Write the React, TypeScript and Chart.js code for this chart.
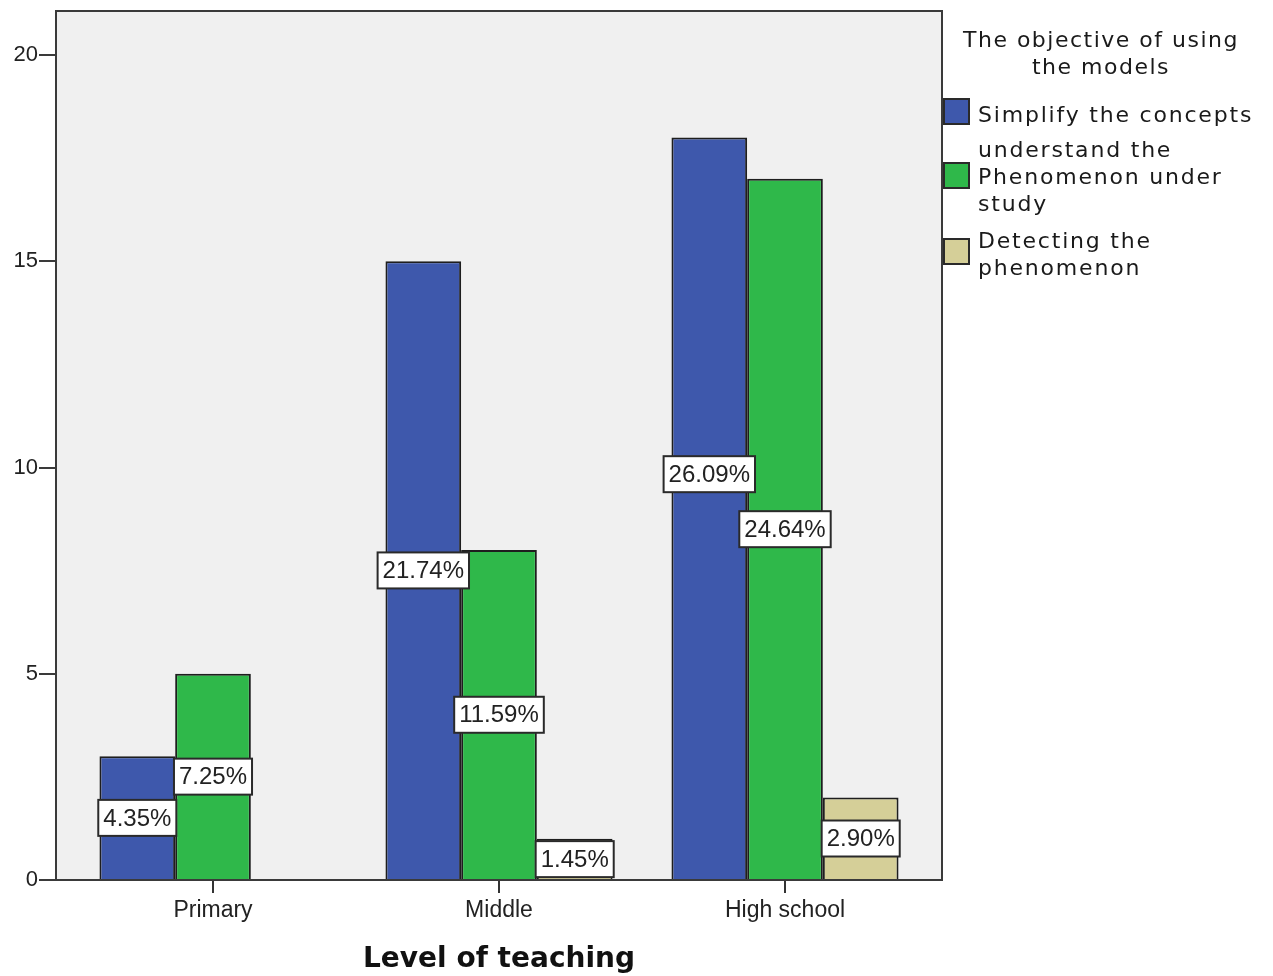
import React, { useEffect, useRef } from "react";
import { Chart, registerables } from "chart.js";

Chart.register(...registerables);

const categories = ["Primary", "Middle", "High school"];
const seriesNames = [
  "Simplify the concepts",
  "understand the Phenomenon under study",
  "Detecting the phenomenon",
];
const simplifyValues = [3, 15, 18];
const understandValues = [5, 8, 17];
const detectingValues = [null, 1, 2];
const totalCount = 69;
const yTicks = [0, 5, 10, 15, 20];

const colors = ["#3e58ac", "#2fb84a", "#d5cf98"];
const EXTRA = 14;

const bgPlugin = {
  id: "plotFrame",
  beforeDatasetsDraw(chart: any) {
    const { ctx, chartArea } = chart;
    const l = chartArea.left - EXTRA;
    const r = chartArea.right + EXTRA;
    ctx.save();
    ctx.fillStyle = "#f0f0f0";
    ctx.fillRect(l, chartArea.top, r - l, chartArea.bottom - chartArea.top);
    ctx.strokeStyle = "#3a3a3a";
    ctx.lineWidth = 2;
    ctx.strokeRect(l, chartArea.top, r - l, chartArea.bottom - chartArea.top);
    const ys = chart.scales.y;
    ctx.beginPath();
    yTicks.forEach((v) => {
      const y = Math.round(ys.getPixelForValue(v));
      ctx.moveTo(l - 17, y);
      ctx.lineTo(l, y);
    });
    ctx.stroke();
    ctx.restore();
  },
  afterDatasetsDraw(chart: any) {
    const { ctx, chartArea } = chart;
    ctx.save();
    ctx.strokeStyle = "#3a3a3a";
    ctx.lineWidth = 2;
    ctx.beginPath();
    ctx.moveTo(chartArea.left - EXTRA, chartArea.bottom);
    ctx.lineTo(chartArea.right + EXTRA, chartArea.bottom);
    ctx.stroke();
    ctx.font = "24px 'Liberation Sans', Arial, sans-serif";
    ctx.textAlign = "center";
    ctx.textBaseline = "middle";
    const h = 36;
    categories.forEach((_c, i) => {
      const boxes: any[] = [];
      chart.data.datasets.forEach((ds: any, di: number) => {
        const v = ds.data[i];
        if (v == null || v <= 0) return;
        const el = chart.getDatasetMeta(di).data[i] as any;
        const pct = ((v / totalCount) * 100).toFixed(2) + "%";
        const w = ctx.measureText(pct).width + 10;
        boxes.push({ pct, cx: el.x, cy: (el.y + el.base) / 2, w });
      });
      // avoid overlap between neighbouring labels: lift the higher one
      for (let k = 0; k < boxes.length - 1; k++) {
        const a = boxes[k];
        const b = boxes[k + 1];
        const hOverlap = Math.abs(a.cx - b.cx) < (a.w + b.w) / 2;
        const vOverlap = Math.abs(a.cy - b.cy) < h;
        if (hOverlap && vOverlap) {
          if (a.cy <= b.cy) a.cy = b.cy - 55;
          else b.cy = a.cy - 55;
        }
      }
      boxes.forEach((bx) => {
        ctx.fillStyle = "#ffffff";
        ctx.fillRect(bx.cx - bx.w / 2, bx.cy - h / 2, bx.w, h);
        ctx.strokeStyle = "#2a2a2a";
        ctx.lineWidth = 2;
        ctx.strokeRect(bx.cx - bx.w / 2, bx.cy - h / 2, bx.w, h);
        ctx.fillStyle = "#222";
        ctx.fillText(bx.pct, bx.cx, bx.cy + 1);
      });
    });
    ctx.restore();
  },
};

function ChartCanvas() {
  const ref = useRef<HTMLCanvasElement | null>(null);
  useEffect(() => {
    if (!ref.current) return;
    const chart = new Chart(ref.current, {
      type: "bar",
      data: {
        labels: categories,
        datasets: [simplifyValues, understandValues, detectingValues].map((d, i) => ({
          label: seriesNames[i],
          data: d as any,
          backgroundColor: colors[i],
          borderColor: "#1e1e1e",
          borderWidth: 2,
          barPercentage: 1,
          categoryPercentage: 0.794,
        })),
      },
      options: {
        animation: false,
        responsive: false,
        maintainAspectRatio: false,
        layout: { padding: { top: 11, right: 345, left: 0, bottom: 0 } },
        plugins: { legend: { display: false }, tooltip: { enabled: false } },
        scales: {
          x: {
            grid: { drawOnChartArea: false, offset: false, tickLength: 13, color: "#333", lineWidth: 2 },
            border: { display: false },
            ticks: { color: "#222", font: { family: "'Liberation Sans', Arial, sans-serif", size: 23 }, padding: 4 },
            title: {
              display: true,
              text: "Level of teaching",
              color: "#111",
              font: { family: "'DejaVu Sans', Verdana, sans-serif", size: 28, weight: "bold" },
              padding: { top: 0, bottom: -1 },
            },
            afterFit(scale: any) {
              scale.height = 96;
            },
          },
          y: {
            min: 0,
            max: 21.07,
            afterBuildTicks(scale: any) {
              scale.ticks = yTicks.map((v) => ({ value: v }));
            },
            grid: { display: true, drawOnChartArea: false, drawTicks: true, tickLength: 32, color: "rgba(0,0,0,0)" },
            border: { display: false },
            ticks: {
              color: "#222",
              font: { family: "'Liberation Sans', Arial, sans-serif", size: 22, lineHeight: 1 },
              padding: 0,
            },
            afterFit(scale: any) {
              scale.width = 70;
            },
          },
        },
      },
      plugins: [bgPlugin],
    });
    return () => chart.destroy();
  }, []);
  return <canvas ref={ref} width={1273} height={976} style={{ display: "block" }} />;
}

const legendFont = "'DejaVu Sans', Verdana, sans-serif";

function LegendItem({ top, boxTop, boxHeight, color, lines }: any) {
  return (
    <>
      <div
        style={{
          position: "absolute",
          left: 943,
          top: boxTop,
          width: 27,
          height: boxHeight,
          background: color,
          border: "2px solid #2a2a2a",
          boxSizing: "border-box",
        }}
      />
      <div
        style={{
          position: "absolute",
          left: 978,
          top: top,
          fontFamily: legendFont,
          fontSize: 22,
          letterSpacing: "1.8px",
          lineHeight: "27px",
          color: "#1a1a1a",
          whiteSpace: "nowrap",
        }}
      >
        {lines.map((l: string, i: number) => (
          <div key={i}>{l}</div>
        ))}
      </div>
    </>
  );
}

export default function App() {
  return (
    <div style={{ position: "absolute", left: 0, top: 0, width: 1273, height: 976, background: "#fff" }}>
      <ChartCanvas />
      <div
        style={{
          position: "absolute",
          left: 950,
          width: 302,
          top: 26,
          textAlign: "center",
          fontFamily: legendFont,
          fontSize: 22,
          letterSpacing: "1.5px",
          lineHeight: "27px",
          color: "#1a1a1a",
          whiteSpace: "nowrap",
        }}
      >
        <div>The objective of using</div>
        <div>the models</div>
      </div>
      <LegendItem top={101} boxTop={98} boxHeight={27} color={colors[0]} lines={["Simplify the concepts"]} />
      <LegendItem top={136} boxTop={162} boxHeight={27} color={colors[1]} lines={["understand the", "Phenomenon under", "study"]} />
      <LegendItem top={227} boxTop={238} boxHeight={27} color={colors[2]} lines={["Detecting the", "phenomenon"]} />
    </div>
  );
}
